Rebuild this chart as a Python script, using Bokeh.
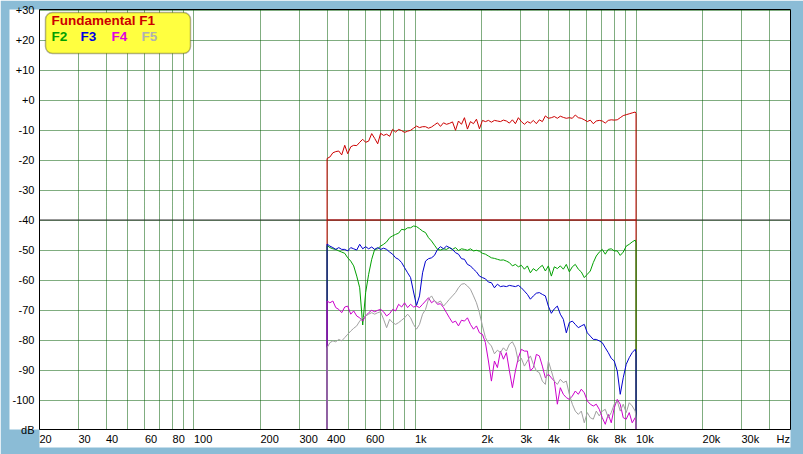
import math
from bokeh.plotting import figure
from bokeh.models import (FixedTicker, CustomJSTickFormatter, Span, BoxAnnotation,
                          Label, Range1d, LogAxis, LinearAxis)
from bokeh.embed import file_html
from bokeh.resources import INLINE

# ---------------- data (Hz, dB) ----------------
freqs = [400, 412, 425, 438, 452, 466, 481, 496, 512, 528, 545, 562, 580, 598, 617,
         637, 657, 678, 699, 721, 744, 768, 792, 817, 843, 870, 897, 926, 955, 985,
         1016, 1048, 1082, 1116, 1151, 1188, 1225, 1264, 1304, 1346, 1388, 1432, 1478,
         1525, 1573, 1623, 1674, 1727, 1782, 1839, 1897, 1957, 2019, 2083, 2149, 2217,
         2288, 2360, 2435, 2512, 2592, 2674, 2759, 2846, 2936, 3029, 3126, 3225, 3327,
         3432, 3541, 3653, 3769, 3889, 4012, 4139, 4270, 4406, 4545, 4690, 4838, 4992,
         5150, 5313, 5482, 5655, 5835, 6019, 6210, 6407, 6610, 6820, 7036, 7259, 7489,
         7726, 7971, 8224, 8484, 8753, 9031, 9317, 9612, 9917, 10000]

f1 = [-19.5, -19.0, -17.6, -17.2, -17.0, -18.3, -15.1, -17.9, -15.6, -15.1,
      -15.2, -14.1, -13.1, -14.1, -13.7, -11.2, -12.8, -14.6, -11.1, -11.8,
      -11.4, -12.1, -9.8, -10.7, -9.8, -10.2, -10.8, -10.4, -10.1, -9.4,
      -8.7, -9.2, -8.9, -8.9, -9.4, -9.0, -8.3, -7.6, -8.8, -7.6,
      -8.1, -7.8, -7.3, -10.1, -7.0, -8.1, -5.9, -9.7, -7.2, -7.9,
      -6.4, -9.6, -6.8, -7.2, -6.8, -7.4, -6.8, -7.0, -7.2, -6.7,
      -7.0, -7.7, -6.6, -7.9, -5.9, -7.2, -8.1, -7.2, -7.7, -6.8,
      -7.9, -6.6, -7.2, -5.3, -6.1, -5.9, -5.5, -6.1, -5.4, -5.8,
      -6.1, -5.9, -6.1, -5.0, -5.9, -6.1, -6.6, -7.2, -6.7, -7.9,
      -7.0, -6.8, -7.0, -7.7, -6.8, -6.6, -6.7, -6.6, -5.9, -5.2,
      -4.9, -4.6, -4.3, -4.0, -4.5]

f2 = [-48.5, -49.2, -49.6, -49.8, -50.3, -50.7, -51.1, -52.6, -53.7, -55.3,
      -58.7, -62.6, -75.0, -64.2, -58.1, -53.1, -49.8, -49.6, -48.7, -48.1,
      -47.3, -45.9, -45.3, -44.8, -44.4, -43.1, -43.3, -42.6, -42.6, -42.0,
      -42.2, -42.9, -43.7, -44.2, -45.9, -47.0, -48.4, -49.8, -50.0, -49.6,
      -49.8, -49.2, -49.8, -49.2, -50.2, -49.6, -49.8, -50.1, -49.6, -50.3,
      -50.1, -50.4, -51.1, -51.4, -52.0, -52.6, -52.8, -53.1, -53.4, -53.3,
      -53.7, -54.2, -55.3, -54.8, -55.6, -55.1, -56.4, -55.3, -57.6, -56.2,
      -57.0, -55.9, -55.1, -57.0, -55.3, -58.7, -55.6, -56.2, -55.3, -56.4,
      -54.8, -57.3, -55.6, -54.8, -56.4, -57.3, -59.2, -58.1, -57.0, -54.2,
      -52.0, -50.7, -49.8, -51.4, -49.8, -49.6, -50.3, -50.3, -51.8, -50.7,
      -48.7, -48.1, -47.3, -46.7, -47.6]

f3 = [-48.0, -48.7, -49.2, -49.8, -49.2, -49.8, -49.8, -50.3, -49.2, -49.6,
      -50.0, -48.1, -49.6, -48.9, -49.6, -49.0, -49.8, -49.2, -49.8, -49.4,
      -49.8, -50.7, -51.4, -52.6, -53.1, -54.2, -55.9, -57.6, -59.2, -64.0,
      -68.5, -65.3, -57.6, -53.7, -52.9, -52.6, -51.8, -49.8, -48.9, -49.6,
      -48.7, -49.2, -49.8, -50.9, -51.4, -52.9, -53.1, -54.8, -55.3, -56.4,
      -57.3, -58.7, -59.2, -59.6, -60.7, -60.9, -62.6, -61.4, -62.2, -62.0,
      -62.2, -61.8, -62.0, -62.2, -61.8, -62.6, -63.7, -64.8, -66.4, -65.3,
      -64.4, -64.2, -64.8, -65.3, -68.7, -71.1, -69.6, -68.7, -71.4, -73.1,
      -77.6, -74.2, -73.7, -74.8, -75.9, -75.3, -74.8, -77.6, -78.7, -79.8,
      -79.8, -80.3, -80.9, -82.6, -84.2, -86.1, -87.0, -90.3, -98.1, -92.6,
      -88.1, -85.9, -84.2, -83.1, -84.2]

f4 = [-67.0, -67.6, -67.0, -69.2, -69.8, -70.9, -69.0, -68.7, -71.4, -70.3,
      -72.0, -72.6, -73.7, -72.0, -70.9, -70.1, -70.6, -70.1, -69.8, -70.6,
      -72.0, -71.2, -69.8, -70.3, -68.1, -69.0, -67.6, -69.2, -68.1, -69.0,
      -68.7, -69.2, -68.1, -67.0, -65.9, -67.6, -66.8, -68.1, -67.9, -69.2,
      -70.9, -72.6, -74.2, -73.7, -75.3, -73.4, -73.7, -72.6, -74.8, -76.4,
      -75.3, -77.6, -78.1, -80.9, -87.0, -93.7, -87.0, -89.2, -83.7, -86.4,
      -84.2, -90.3, -95.9, -90.3, -85.9, -83.1, -83.7, -83.7, -90.3, -89.2,
      -84.8, -85.3, -88.7, -92.6, -91.4, -92.6, -93.7, -101.4, -95.9, -98.1,
      -99.2, -99.8, -98.7, -97.0, -98.1, -96.4, -97.6, -100.3, -101.4, -102.0,
      -101.4, -103.1, -105.9, -108.1, -104.8, -107.6, -102.6, -99.8, -101.4, -105.9,
      -106.4, -104.2, -107.6, -105.9, -108.1]

f5 = [-82.6, -80.9, -80.3, -80.6, -79.8, -80.3, -79.2, -78.1, -77.0, -76.1,
      -75.3, -73.7, -72.6, -72.0, -71.4, -70.9, -71.4, -70.9, -70.6, -73.1,
      -75.9, -73.1, -74.2, -74.8, -74.2, -73.4, -72.6, -71.4, -72.6, -74.8,
      -76.4, -74.8, -71.4, -69.8, -66.4, -65.3, -67.0, -67.6, -67.0, -68.7,
      -67.6, -66.4, -65.3, -64.2, -62.6, -61.4, -61.2, -62.0, -63.1, -65.3,
      -67.6, -70.9, -75.3, -79.2, -80.9, -82.0, -84.6, -83.4, -84.2, -82.6,
      -83.7, -81.4, -80.6, -82.6, -87.2, -86.1, -88.7, -87.0, -85.3, -88.1,
      -90.3, -90.9, -93.7, -94.8, -87.0, -90.3, -93.7, -94.8, -93.1, -94.2,
      -93.7, -98.1, -101.4, -103.7, -104.8, -103.7, -107.6, -104.2, -105.9, -106.4,
      -103.7, -105.3, -103.7, -103.1, -105.9, -104.2, -101.4, -100.3, -103.7, -101.4,
      -104.2, -100.9, -102.0, -103.7, -105.9]

limit_freqs = [400, 10000]
limit_db = [-40, -40]

series_names = ["F1", "F2", "F3", "F4", "F5"]
series_colors = ["#cc0000", "#00a000", "#0000cc", "#cc00cc", "#a0a0a0"]

x_tick_values = [20, 30, 40, 60, 80, 100, 200, 300, 400, 600, 1000, 2000, 3000,
                 4000, 6000, 8000, 10000, 20000, 30000]
x_tick_labels = ["20", "30", "40", "60", "80", "100", "200", "300", "400", "600",
                 "1k", "2k", "3k", "4k", "6k", "8k", "10k", "20k", "30k"]
x_unit = "Hz"
y_tick_values = [30, 20, 10, 0, -10, -20, -30, -40, -50, -60, -70, -80, -90, -100]
y_tick_labels = ["+30", "+20", "+10", "+0", "-10", "-20", "-30", "-40", "-50", "-60",
                 "-70", "-80", "-90", "-100"]
y_unit = "dB"

X_MIN, X_MAX = 20, 50000
Y_MIN, Y_MAX = -110, 30

# ---------------- figure ----------------
W, H = 803, 454
MB_L, MB_R, MB_T, MB_B = 39, 13, 9, 25
BLUE = "#8bbcd6"
FONT = "Liberation Sans"

frame_w = W - MB_L - MB_R
frame_h = H - MB_T - MB_B
ppd = frame_w / math.log10(X_MAX / X_MIN)
half_px = 0.5 * (Y_MAX - Y_MIN) / frame_h      # puts horizontal lines on pixel centres
y_lo, y_hi = Y_MIN + half_px, Y_MAX + half_px

p = figure(width=W, height=H, x_axis_type="log",
           x_range=Range1d(X_MIN, X_MAX), y_range=Range1d(y_lo, y_hi),
           output_backend="svg", toolbar_location=None,
           min_border_left=MB_L, min_border_right=MB_R,
           min_border_top=MB_T, min_border_bottom=MB_B)
p.background_fill_color = "white"
p.border_fill_color = BLUE
p.outline_line_color = "black"
p.outline_line_width = 1

# grid
grid_ticks = [m * 10 ** e for e in range(1, 5) for m in range(1, 10)
              if X_MIN <= m * 10 ** e < X_MAX]
p.xgrid.ticker = FixedTicker(ticks=grid_ticks)
p.ygrid.ticker = FixedTicker(ticks=y_tick_values)
for g in (p.xgrid, p.ygrid):
    g.grid_line_color = "#005a00"
    g.grid_line_dash = "1 1"
    g.grid_line_width = 1

# label axes (white panels)
xa = p.xaxis[0]
ya = p.yaxis[0]

hz_anchor = X_MAX / 10 ** (14 / ppd)
all_x = x_tick_values + [hz_anchor]
all_x_labels = x_tick_labels + [x_unit]
char_w = {"k": 5.5, "H": 7.9, "z": 5.5}
shifted = []
for t, lab in zip(all_x, all_x_labels):
    w = sum(char_w.get(c, 6.1) for c in lab)
    shifted.append(t * 10 ** ((w / 2) / ppd))
xa.ticker = FixedTicker(ticks=shifted, minor_ticks=[])
xa.formatter = CustomJSTickFormatter(args=dict(labels=all_x_labels),
                                     code="return labels[index];")
ya.ticker = FixedTicker(ticks=y_tick_values + [y_lo], minor_ticks=[])
overrides = {v: l for v, l in zip(y_tick_values, y_tick_labels)}
overrides[y_lo] = y_unit
ya.major_label_overrides = overrides
for ax in (xa, ya):
    ax.axis_line_color = "black"
    ax.axis_line_width = 1
    ax.major_tick_line_color = None
    ax.minor_tick_line_color = None
    ax.major_tick_in = 0
    ax.major_tick_out = 0
    ax.major_label_text_font = FONT
    ax.major_label_text_font_size = "11px"
    ax.major_label_text_color = "black"
    ax.background_fill_color = "white"
xa.major_label_standoff = 3
ya.major_label_standoff = 5

# blue gaps between the frame and the label panels
gap_x = LogAxis(ticker=FixedTicker(ticks=[], minor_ticks=[]), axis_line_color=None,
                major_tick_line_color=None, minor_tick_line_color=None,
                major_tick_in=0, major_tick_out=5, minor_tick_out=0,
                major_label_standoff=0)
gap_y = LinearAxis(ticker=FixedTicker(ticks=[], minor_ticks=[]), axis_line_color=None,
                   major_tick_line_color=None, minor_tick_line_color=None,
                   major_tick_in=0, major_tick_out=6, minor_tick_out=0,
                   major_label_standoff=0)
p.below = [gap_x] + list(p.below)
p.left = [gap_y] + list(p.left)

# white panel behind the level labels (extends above / below the frame)
left_panel = BoxAnnotation(left=-36, right=-6, top=frame_h + 7, bottom=-11,
                           left_units="screen", right_units="screen",
                           top_units="screen", bottom_units="screen",
                           fill_color="white", fill_alpha=1,
                           line_color="black", line_width=1.5, level="underlay")
p.add_layout(left_panel)

# -40 dB reference line
p.add_layout(Span(location=-40, dimension="width", line_color="#303030",
                  line_width=1, level="underlay"))
p.line(limit_freqs, limit_db, line_color="#cc0000", line_width=1)

# curves (drop to the bottom at both ends)
for vals, col in zip([f1, f2, f3, f4, f5], series_colors):
    xs = [freqs[0]] + freqs + [freqs[-1]]
    ys = [y_lo] + vals + [y_lo]
    p.line(xs, ys, line_color=col, line_width=1)

# legend box
p.add_layout(BoxAnnotation(left=6, right=151, top=frame_h - 3, bottom=frame_h - 44,
                           left_units="screen", right_units="screen",
                           top_units="screen", bottom_units="screen",
                           fill_color="#ffff40", fill_alpha=1, line_color="black",
                           line_width=1.5, border_radius=7))
p.add_layout(Label(x=12, y=frame_h - 18, x_units="screen", y_units="screen",
                   text="Fundamental F1", text_color="#cc0000", text_font=FONT,
                   text_font_size="13.5px", text_font_style="bold"))
legend_x = [12, 41, 72, 102]
legend_cols = ["#00a000", "#0000e0", "#e000e0", "#b0b0b0"]
for lx, name, col in zip(legend_x, series_names[1:], legend_cols):
    p.add_layout(Label(x=lx, y=frame_h - 34, x_units="screen", y_units="screen",
                       text=name, text_color=col, text_font=FONT,
                       text_font_size="13.5px", text_font_style="bold"))

open("out.html", "w").write(file_html(p, INLINE))
